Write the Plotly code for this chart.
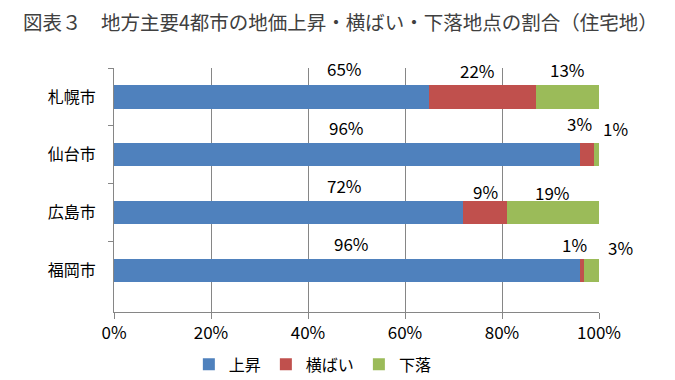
import plotly.graph_objects as go

cities = ["札幌市", "仙台市", "広島市", "福岡市"]
series_names = ["上昇", "横ばい", "下落"]
rise = [65, 96, 72, 96]
flat = [22, 3, 9, 1]
fall = [13, 1, 19, 3]
colors = ["#4F81BD", "#C0504D", "#9BBB59"]

# manual label placement (x in % of axis, vertical shift in px), as in the original
label_x = [[47.6, 75.0, 93.5], [48.0, 95.9, 103.5], [47.6, 76.5, 90.5], [49.0, 95.0, 104.5]]
label_dy = [[28, 26, 27], [27, 31, 26], [27, 21, 20], [27, 26, 23]]

FONT = "Noto Sans CJK JP, Meiryo, sans-serif"

fig = go.Figure()
for name, vals, col in zip(series_names, [rise, flat, fall], colors):
    fig.add_trace(go.Bar(
        y=cities, x=[v / 100 for v in vals], name=name, orientation="h",
        marker=dict(color=col, line=dict(width=0)), width=0.4,
    ))

series = [rise, flat, fall]
for i, c in enumerate(cities):
    for j in range(3):
        fig.add_annotation(
            xref="paper", yref="y", xanchor="center", yanchor="middle",
            x=label_x[i][j] / 100, y=c, text=f"{series[j][i]}%",
            showarrow=False, yshift=label_dy[i][j],
            font=dict(family=FONT, size=17, color="#000000"),
        )

fig.update_layout(
    barmode="stack",
    width=675, height=380,
    margin=dict(l=114, r=76, t=68, b=68, autoexpand=False),
    paper_bgcolor="white", plot_bgcolor="white",
    title=dict(
        text="図表３　地方主要4都市の地価上昇・横ばい・下落地点の割合（住宅地）",
        x=0.034, xanchor="left", y=0.94, yanchor="middle",
        font=dict(family=FONT, size=19.5, color="#404040"),
    ),
    showlegend=True,
    legend=dict(
        orientation="h", x=0.41, xanchor="center", y=-0.215, yanchor="middle",
        font=dict(family=FONT, size=16, color="#000000"),
        itemwidth=30, traceorder="normal",
    ),
    bargap=0.6,
)
fig.update_xaxes(
    range=[0, 1], dtick=0.2, tickformat=".0%",
    showgrid=True, gridcolor="#868686", gridwidth=1,
    showline=True, linecolor="#868686", linewidth=1,
    ticks="outside", ticklen=6, tickcolor="#868686",
    tickfont=dict(family=FONT, size=17, color="#000000"),
    zeroline=False, fixedrange=True,
)
fig.update_yaxes(
    autorange="reversed", tickson="boundaries",
    showline=True, linecolor="#868686", linewidth=1,
    ticks="outside", ticklen=5, tickcolor="#868686",
    tickfont=dict(family=FONT, size=16, color="#000000"),
    ticklabelstandoff=14,
    showgrid=False, fixedrange=True,
)

fig.write_html("out.html")
